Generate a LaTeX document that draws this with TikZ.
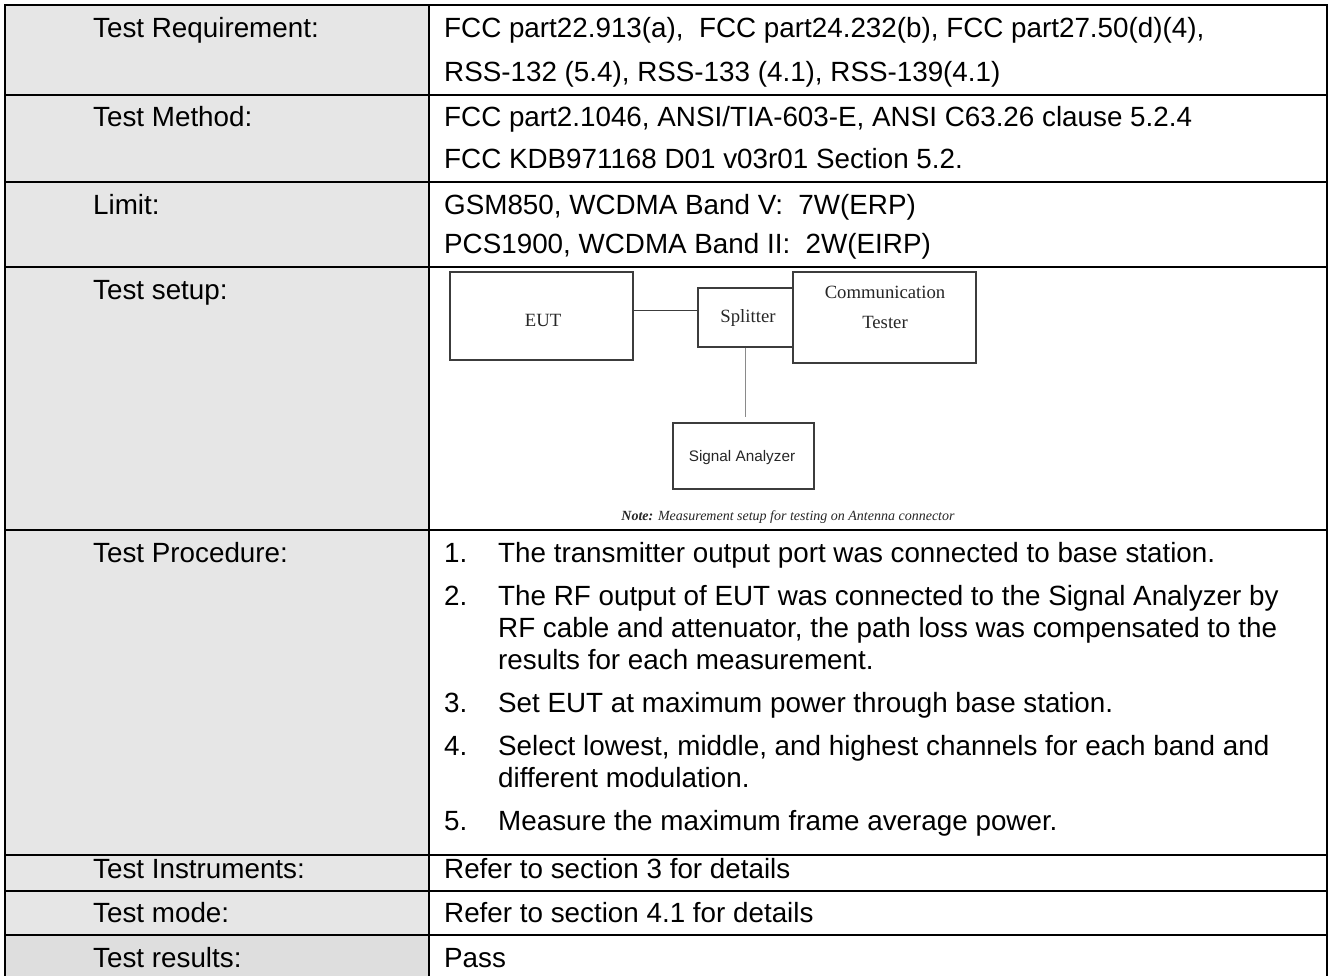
\documentclass[tikz,border=0pt]{standalone}
\usepackage{fontspec}
\setmainfont{Liberation Sans}
\newfontfamily\diagserif{Liberation Serif}
\definecolor{cellgray}{HTML}{E6E6E6}
\definecolor{cellgrayb}{HTML}{DEDEDE}
\definecolor{boxgray}{HTML}{3C3C3C}
\definecolor{linegray}{HTML}{8A8A8A}
\definecolor{diagtext}{HTML}{262626}
\newcommand\mainsz{\fontsize{27.8pt}{32pt}\selectfont}
\tikzset{
  txt/.style={anchor=base west, inner sep=0pt, font=\mainsz},
  rule/.style={line width=2pt, black},
  dbox/.style={draw=boxgray, line width=1.1pt, inner sep=0pt},
  dtext/.style={inner sep=0pt, text=diagtext, font=\diagserif\fontsize{18.7pt}{30pt}\selectfont},
  sanslbl/.style={inner sep=0pt, text=diagtext, font=\fontsize{15.3pt}{18pt}\selectfont},
  conn/.style={draw=boxgray, line width=1pt},
  connl/.style={draw=linegray, line width=1pt}
}
\begin{document}
\begin{tikzpicture}[x=1pt,y=-1pt]
\useasboundingbox (0,0) rectangle (1330,975);
% label column fill
\fill[cellgray] (5,5) rectangle (429,935);
\fill[cellgrayb] (5,935) rectangle (429,980);
% table rules
\draw[rule] (5,5) -- (1327,5);
\foreach \yy in {95,182,267,530,855,891,935} \draw[rule] (5,\yy) -- (1327,\yy);
\draw[rule] (5,4) -- (5,980);
\draw[rule] (429,4) -- (429,980);
\draw[rule] (1327,4) -- (1327,980);

% left labels
\node[txt] (lreq) at (93,37) {Test Requirement:};
\node[txt] (lmeth) at (93,126) {Test Method:};
\node[txt] (llim) at (93,214) {Limit:};
\node[txt] (lset) at (93,299) {Test setup:};
\node[txt] (lproc) at (93,562) {Test Procedure:};
\node[txt] (linst) at (93,878) {Test Instruments:};
\node[txt] (lmode) at (93,922) {Test mode:};
\node[txt] (lres) at (93,967) {Test results:};

% right column
\node[txt] (req1) at (444,37) {FCC part22.913(a),~ FCC part24.232(b), FCC part27.50(d)(4),};
\node[txt] (req2) at (444,81) {RSS-132 (5.4), RSS-133 (4.1), RSS-139(4.1)};
\node[txt] (meth1) at (444,126) {FCC part2.1046, ANSI/TIA-603-E, ANSI C63.26 clause 5.2.4};
\node[txt] (meth2) at (444,168) {FCC KDB971168 D01 v03r01 Section 5.2.};
\node[txt] (lim1) at (444,214) {GSM850, WCDMA Band V:~ 7W(ERP)};
\node[txt] (lim2) at (444,253) {PCS1900, WCDMA Band II:~ 2W(EIRP)};

% procedure
\node[txt] (n1) at (444,562) {1.};
\node[txt] (p1) at (498,562) {The transmitter output port was connected to base station.};
\node[txt] (n2) at (444,605) {2.};
\node[txt] (p2a) at (498,605) {The RF output of EUT was connected to the Signal Analyzer by};
\node[txt] (p2b) at (498,637) {RF cable and attenuator, the path loss was compensated to the};
\node[txt] (p2c) at (498,669) {results for each measurement.};
\node[txt] (n3) at (444,712) {3.};
\node[txt] (p3) at (498,712) {Set EUT at maximum power through base station.};
\node[txt] (n4) at (444,755) {4.};
\node[txt] (p4a) at (498,755) {Select lowest, middle, and highest channels for each band and};
\node[txt] (p4b) at (498,787) {different modulation.};
\node[txt] (n5) at (444,830) {5.};
\node[txt] (p5) at (498,830) {Measure the maximum frame average power.};

\node[txt] (inst) at (444,878) {Refer to section 3 for details};
\node[txt] (mode) at (444,922) {Refer to section 4.1 for details};
\node[txt] (res) at (444,967) {Pass};

% setup diagram
\node[dbox, minimum width=183pt, minimum height=88pt] (eut) at (541.5,316) {};
\node[dtext] (euttxt) at (543,320) {EUT};
\node[dbox, minimum width=95pt, minimum height=59pt] (split) at (745.5,317.5) {};
\node[dtext] (splittxt) at (748,318) {Splitter};
\node[dbox, minimum width=183pt, minimum height=91pt] (comm) at (884.5,317.5) {};
\node[dtext, align=center] (commtxt) at (885,307) {Communication\\Tester};
\node[dbox, minimum width=141pt, minimum height=66pt] (sa) at (743.5,456) {};
\node[sanslbl] (satxt) at (742,458) {Signal Analyzer};
\coordinate (j1) at ([yshift=6pt]eut.east);
\draw[conn] (j1) -- (j1 -| split.west);
\coordinate (vend) at (745.5,417);
\draw[connl] (split.south) -- (vend);
\node[inner sep=0pt, text=diagtext, font=\diagserif\fontsize{14pt}{16pt}\selectfont\itshape] (note) at (788,517) {\textbf{Note:} Measurement setup for testing on Antenna connector};
\end{tikzpicture}
\end{document}
